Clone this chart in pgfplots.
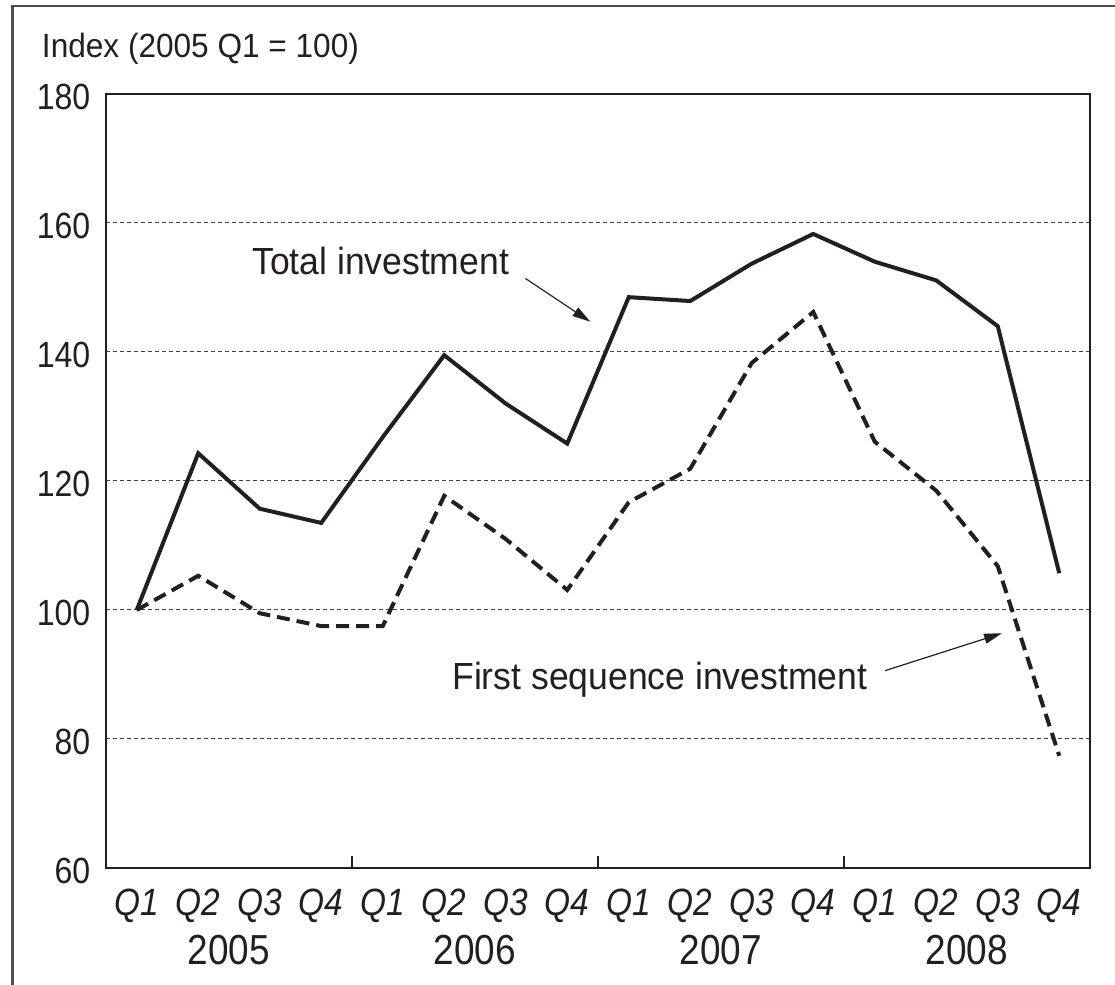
\documentclass[border=0pt]{standalone}
\usepackage{fontspec}
\setmainfont{Liberation Sans}[FakeStretch=0.94]
\newfontfamily\narrowfont{Liberation Sans}[FakeStretch=0.88]
\usepackage{pgfplots}
\pgfplotsset{compat=1.18}
\usetikzlibrary{arrows.meta}
\definecolor{ink}{RGB}{35,31,32}
\begin{document}
\begin{tikzpicture}
\begin{axis}[
  at={(0,0)}, anchor=south west,
  scale only axis, width=492pt, height=387pt,
  clip=false,
  xmin=-0.5, xmax=15.5, ymin=60, ymax=180,
  ytick={60,80,100,120,140,160,180},
  xtick={0,1,...,15},
  xticklabels={Q1,Q2,Q3,Q4,Q1,Q2,Q3,Q4,Q1,Q2,Q3,Q4,Q1,Q2,Q3,Q4},
  minor xtick={3.5,7.5,11.5},
  xtick pos=bottom, ytick pos=left,
  tick align=inside, major tick length=0pt, minor tick length=6pt,
  minor tick style={ink, line width=0.7pt},
  ymajorgrids,
  grid style={ink!85, line width=0.5pt, dash pattern=on 2pt off 1.5pt},
  axis line style={ink, line width=0.8pt},
  /pgf/number format/assume math mode=true,
  yticklabel style={anchor=east, inner sep=0pt, xshift=-7.7pt, yshift=-1.5pt,
    text=ink, font=\narrowfont\fontsize{18.2}{20}\selectfont},
  xticklabel style={anchor=north, inner sep=0pt, yshift=-10.5pt,
    text=ink, font=\narrowfont\fontsize{19}{21}\selectfont\itshape},
  extra x ticks={1.5,5.5,9.5,13.5},
  extra x tick labels={2005,2006,2007,2008},
  extra x tick style={major tick length=0pt, grid=none,
    xticklabel style={yshift=-23pt, font=\narrowfont\fontsize{21}{24}\selectfont\upshape}},
]
\addplot[ink, line width=2pt] coordinates {
(0,100) (1,124.3) (2,115.7) (3,113.5) (4,126.8) (5,139.5) (6,132.0) (7,125.8)
(8,148.5) (9,147.9) (10,153.7) (11,158.3) (12,154.0) (13,151.1) (14,144.0) (15,105.7)};
\addplot[ink, line width=2pt, dash pattern=on 6.5pt off 3.5pt] coordinates {
(0,100) (1,105.3) (2,99.5) (3,97.5) (4,97.5) (5,117.7) (6,111.0) (7,103.1)
(8,116.7) (9,121.9) (10,138.3) (11,146.2) (12,126.1) (13,118.5) (14,106.8) (15,77.4)};
\draw[ink, line width=0.6pt, -{Triangle[length=9pt,width=5pt]}]
  (axis cs:6.32,151.4) -- (axis cs:7.375,144.7);
\draw[ink, line width=0.6pt, -{Triangle[length=9pt,width=5pt]}]
  (axis cs:12.17,90.6) -- (axis cs:14.07,96.4);
\node[anchor=base east, inner sep=0pt, text=ink, font=\fontsize{18.9}{22}\selectfont]
  at (axis cs:6.06,152.0) {Total investment};
\node[anchor=base west, inner sep=0pt, text=ink, font=\fontsize{18.9}{22}\selectfont]
  at (axis cs:5.126,87.7) {First sequence investment};
\node[anchor=base west, inner sep=0pt, text=ink, font=\fontsize{16.8}{19}\selectfont]
  at (rel axis cs:0,1) [xshift=-32.2pt, yshift=18.4pt] {Index (2005 Q1 = 100)};
\end{axis}
\draw[ink!80, line width=1.2pt] (-46.8pt,-58.5pt) -- (-46.8pt,431pt) -- (504.5pt,431pt);
\pgfresetboundingbox
\path[use as bounding box] (-53pt,-58.5pt) rectangle (504.5pt,434pt);
\end{tikzpicture}
\end{document}
